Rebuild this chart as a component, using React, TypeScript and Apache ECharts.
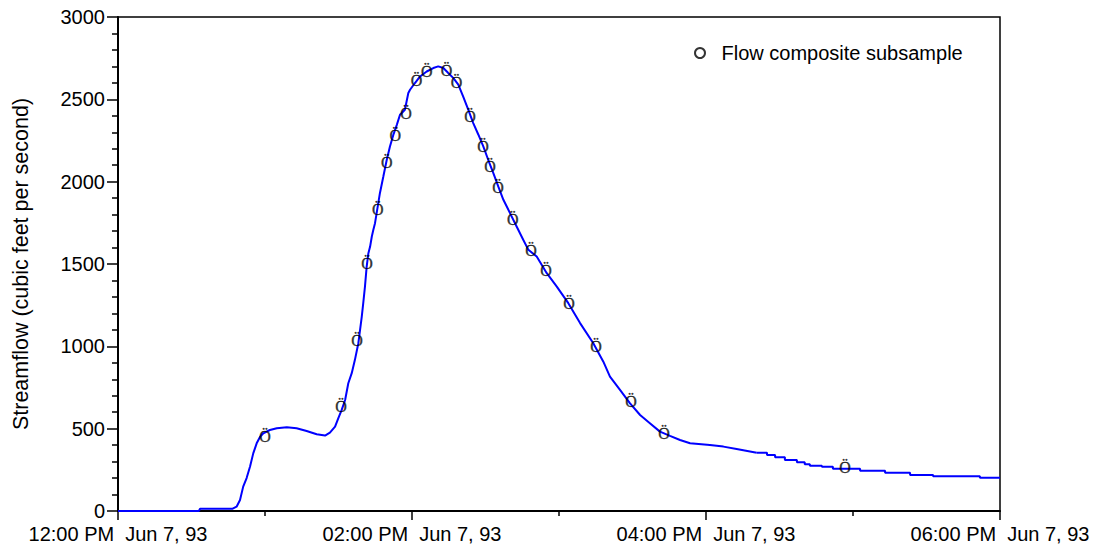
import React, { useEffect, useRef } from "react";
import * as echarts from "echarts";

// Streamflow hydrograph, minutes after 12:00 PM Jun 7, 93
const flowMinutes = [
  0, 33, 33.5, 46.8, 48.4, 49.8, 51.1, 52.5, 53.9, 55.2, 56.6, 58.0, 59.3, 62.0, 64.8, 68.9,
  72.9, 77.0, 81.1, 84.5, 86.5, 88.6, 89.9, 91.3, 92.7, 94.0, 95.4, 96.7, 98.1, 98.8, 99.5,
  100.1, 100.8, 101.5, 102.2, 102.9, 103.6, 104.2, 104.9, 106.9, 108.3, 109.7, 111.0, 112.4,
  113.8, 115.1, 117.1, 118.5, 119.2, 121.2, 123.3, 126.0, 128.7, 130.7, 132.8, 134.8, 136.9,
  138.9, 140.9, 143.0, 145.0, 147.1, 149.1, 151.1, 153.2, 155.2, 157.3, 160.0, 162.7, 165.4,
  167.5, 170.9, 175.0, 179.1, 183.8, 188.6, 194.0, 198.1, 200.8, 204.9, 209.0, 213.1, 217.1,
  221.2, 225.3, 229.4, 233.5, 241.6, 247.1, 252.5, 260.7, 264.9, 268.2, 272.2, 277.1, 280.3,
  282.4, 287.3, 291.8, 302.9, 313.1, 323.3, 332.7, 351.8, 360,
];
const flowValues = [
  0, 0, 14, 14, 26, 67, 148, 200, 270, 350, 411, 451, 472, 492, 503, 509,
  503, 486, 466, 458, 476, 512, 563, 614, 674, 776, 837, 918, 1019, 1100, 1181,
  1262, 1363, 1484, 1566, 1606, 1667, 1707, 1748, 1930, 2031, 2133, 2214, 2285,
  2345, 2406, 2437, 2538, 2558, 2599, 2639, 2669, 2690, 2700, 2690, 2660, 2629,
  2589, 2517, 2436, 2356, 2285, 2214, 2133, 2052, 1971, 1890, 1809, 1728, 1647,
  1586, 1545, 1444, 1363, 1262, 1141, 1019, 907, 816, 735, 654, 583, 533,
  482, 456, 431, 411, 401, 391, 377, 354, 340, 326, 310, 296, 284,
  275, 269, 257, 245, 233, 219, 211, 202, 202,
];
// the recession tail (from this minute on) is drawn as a gauge staircase
const tailStartMinute = 260.7;

// Flow composite subsample points
const sampleMinutes = [
  60, 91, 97.6, 101.6, 106, 109.7, 113.2, 117.6, 121.9, 126, 134.1, 138.2, 143.7, 149,
  151.8, 155.1, 161.1, 168.6, 174.7, 184.1, 195.1, 209.4, 222.9, 296.7,
];
const sampleValues = [
  450, 632, 1033, 1501, 1829, 2115, 2279, 2413, 2613, 2668, 2676, 2600, 2396, 2214,
  2092, 1963, 1768, 1580, 1458, 1258, 997, 663, 468, 262,
];

const xTickTimes = ["12:00 PM", "02:00 PM", "04:00 PM", "06:00 PM"];
const xTickDate = "Jun 7, 93";
const yAxisName = "Streamflow (cubic feet per second)";
const sampleName = "Flow composite subsample";

const FONT = "'Liberation Sans', Arial, Helvetica, sans-serif";

export default function App() {
  const ref = useRef<HTMLDivElement>(null);
  useEffect(() => {
    if (!ref.current) return;
    const chart = echarts.init(ref.current, null, { renderer: "svg" });
    const flowData = flowMinutes.map((m, i) => [m, flowValues[i]]);
    const riseData = flowData.filter((d) => d[0] <= tailStartMinute);
    const tailData = flowData.filter((d) => d[0] >= tailStartMinute);
    const sampleData = sampleMinutes.map((m, i) => [m, sampleValues[i]]);
    const lineStyle = { color: "#0000ff", width: 2 };
    chart.setOption({
      animation: false,
      backgroundColor: "#fff",
      grid: {
        left: 118,
        right: 96,
        top: 17,
        bottom: 35,
        show: true,
        borderColor: "#000",
        borderWidth: 1.5,
        backgroundColor: "transparent",
      },
      legend: {
        data: [
          {
            name: sampleName,
            icon: "emptyCircle",
            itemStyle: { color: "#000", borderColor: "#000", borderWidth: 1.5 },
          },
        ],
        left: 689,
        top: 38,
        itemWidth: 33,
        itemHeight: 10,
        textStyle: { fontFamily: FONT, fontSize: 20, color: "#000" },
      },
      xAxis: {
        type: "value",
        min: 0,
        max: 360,
        interval: 120,
        axisLine: { show: true, lineStyle: { color: "#000", width: 2 } },
        axisTick: { show: true, length: 9, lineStyle: { color: "#000", width: 1.5 } },
        minorTick: { show: true, splitNumber: 2, length: 5, lineStyle: { color: "#000", width: 1.5 } },
        splitLine: { show: false },
        axisLabel: {
          margin: 13,
          color: "#000",
          fontFamily: FONT,
          fontSize: 20,
          formatter: (v: number) => {
            const idx = Math.round(v / 120);
            return `{t|${xTickTimes[idx]}}{d|${xTickDate}}`;
          },
          rich: {
            t: { fontFamily: FONT, fontSize: 20, color: "#000", padding: [0, 11, 0, 0] },
            d: { fontFamily: FONT, fontSize: 20, color: "#000" },
          },
        },
      },
      yAxis: {
        type: "value",
        min: 0,
        max: 3000,
        interval: 500,
        name: yAxisName,
        nameLocation: "middle",
        nameRotate: 90,
        nameGap: 86,
        nameTextStyle: { fontFamily: FONT, fontSize: 21.5, color: "#000" },
        axisLine: { show: true, lineStyle: { color: "#000", width: 2 } },
        axisTick: { show: true, length: 11, lineStyle: { color: "#000", width: 1.5 } },
        minorTick: { show: true, splitNumber: 5, length: 6, lineStyle: { color: "#000", width: 1.5 } },
        splitLine: { show: false },
        axisLabel: {
          margin: 13,
          color: "#000",
          fontFamily: FONT,
          fontSize: 20,
          formatter: (v: number) => String(v),
        },
      },
      series: [
        {
          name: "Streamflow",
          type: "line",
          data: riseData,
          showSymbol: false,
          symbol: "none",
          lineStyle,
          z: 3,
        },
        {
          name: "Streamflow tail",
          type: "line",
          step: "end",
          data: tailData,
          showSymbol: false,
          symbol: "none",
          lineStyle,
          z: 3,
        },
        {
          name: sampleName,
          type: "scatter",
          data: sampleData,
          symbol: "circle",
          symbolSize: 1,
          itemStyle: { color: "transparent" },
          label: {
            show: true,
            position: "inside",
            formatter: "Ö",
            fontFamily: "'Liberation Serif', 'Times New Roman', serif",
            fontSize: 16,
            color: "#000",
            textBorderColor: "#000",
            textBorderWidth: 0.4,
          },
          z: 4,
        },
      ],
    });
    return () => chart.dispose();
  }, []);
  return (
    <div
      ref={ref}
      style={{ position: "fixed", left: 0, top: 0, width: 1096, height: 546, background: "#fff" }}
    />
  );
}
